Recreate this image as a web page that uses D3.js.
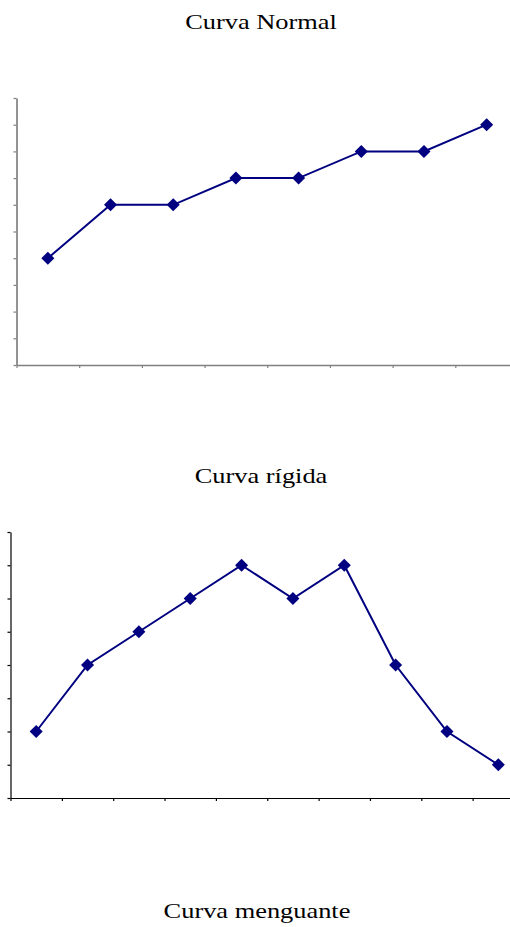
<!DOCTYPE html>
<html>
<head>
<meta charset="utf-8">
<script src="https://cdn.jsdelivr.net/npm/d3@7/dist/d3.min.js"></script>
<style>
  html, body { margin: 0; padding: 0; background: #fff; overflow: hidden; }
  svg { display: block; }
  .title { font-family: "Liberation Serif", "Times New Roman", serif; font-size: 22px; fill: #000; }
</style>
</head>
<body>
<svg id="chart" width="510" height="927"></svg>
<script>
// Titles
const titles = ["Curva Normal", "Curva rígida", "Curva menguante"];

// "Curva Normal" series
const normalCategories = [1, 2, 3, 4, 5, 6, 7, 8];
const normalValues = [4, 6, 6, 7, 7, 8, 8, 9];
const normalTicks = [0, 1, 2, 3, 4, 5, 6, 7, 8, 9, 10];

// "Curva rígida" series
const rigidCategories = [1, 2, 3, 4, 5, 6, 7, 8, 9, 10];
const rigidValues = [2, 4, 5, 6, 7, 6, 7, 4, 2, 1];
const rigidTicks = [0, 1, 2, 3, 4, 5, 6, 7, 8];

const svg = d3.select("#chart");
const navy = "#000080";

function drawTitle(text, cx, baseline) {
  svg.append("text")
    .attr("class", "title")
    .attr("text-anchor", "middle")
    .attr("transform", `translate(${cx},${baseline}) scale(1.2,1)`)
    .text(text);
}

function drawPanel(opts) {
  const { categories, values, ticks, left, right, top, bottom, axisColor, axisWidth } = opts;
  const g = svg.append("g");

  const x = d3.scaleBand().domain(categories).range([left, right]).padding(0);
  const xEdges = d3.scaleLinear().domain([0, categories.length]).range([left, right]);
  const y = d3.scaleLinear().domain([ticks[0], ticks[ticks.length - 1]]).range([bottom, top]);

  // y axis
  const yAxis = g.append("g")
    .attr("transform", `translate(${left},0)`)
    .call(d3.axisLeft(y).tickValues(ticks).tickSize(3).tickSizeOuter(0).tickFormat(""));
  // x axis, ticks at category boundaries
  const xAxis = g.append("g")
    .attr("transform", `translate(0,${bottom})`)
    .call(d3.axisBottom(xEdges).tickValues(d3.range(0, categories.length + 1)).tickSize(3).tickSizeOuter(0).tickFormat(""));

  [yAxis, xAxis].forEach(a => {
    a.select(".domain").attr("stroke", axisColor).attr("stroke-width", axisWidth);
    a.selectAll(".tick line").attr("stroke", axisColor).attr("stroke-width", 1.2);
  });

  const line = d3.line()
    .x((d, i) => x(categories[i]) + x.bandwidth() / 2)
    .y(d => y(d));

  g.append("path")
    .datum(values)
    .attr("fill", "none")
    .attr("stroke", navy)
    .attr("stroke-width", 2)
    .attr("d", line);

  const sym = d3.symbol().type(d3.symbolSquare).size(85);
  g.selectAll(".marker")
    .data(values)
    .join("path")
    .attr("class", "marker")
    .attr("d", sym)
    .attr("fill", navy)
    .attr("transform", (d, i) =>
      `translate(${x(categories[i]) + x.bandwidth() / 2},${y(d)}) rotate(45)`);
}

drawTitle(titles[0], 261, 29);
drawPanel({
  categories: normalCategories, values: normalValues, ticks: normalTicks,
  left: 16.5, right: 518, top: 98, bottom: 365,
  axisColor: "#808080", axisWidth: 1.7
});

drawTitle(titles[1], 261, 483);
drawPanel({
  categories: rigidCategories, values: rigidValues, ticks: rigidTicks,
  left: 10.5, right: 524, top: 532, bottom: 798,
  axisColor: "#000", axisWidth: 1.2
});

drawTitle(titles[2], 257, 918);
</script>
</body>
</html>
